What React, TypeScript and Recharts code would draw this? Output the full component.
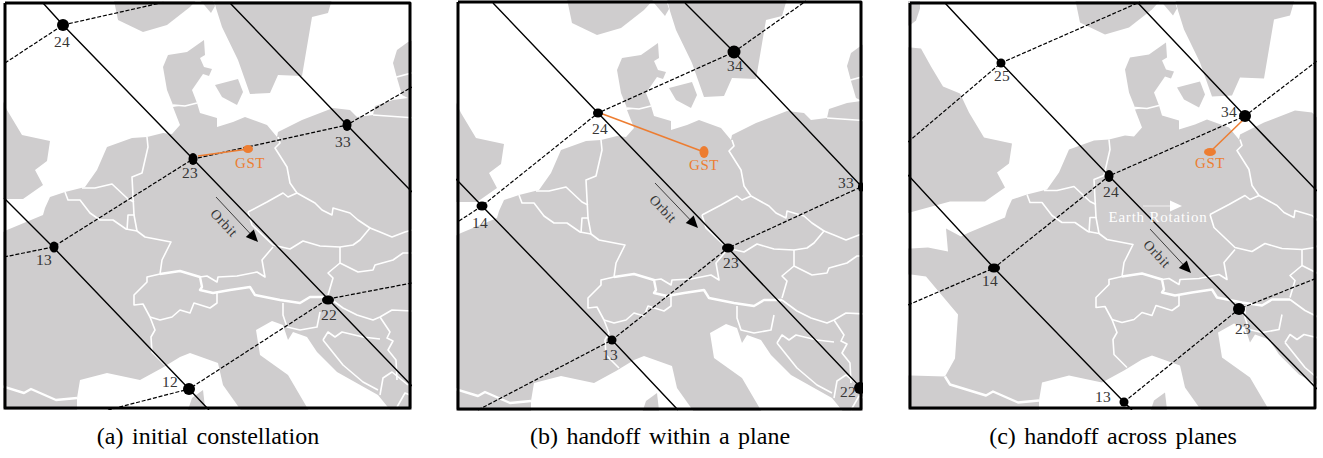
import { ScatterChart, Scatter, XAxis, YAxis } from "recharts";

type Pair = [number, number];

// map outlines, read in panel (a) pixels; other panels shift them
const norway: Pair[] = [[113,-4],[118,20],[143,32],[167,25],[190,7],[200,-4]];
const skagerrak: Pair[] = [[200,0],[211,13],[215,6],[213,0]];
const sweden: Pair[] = [[213,-4],[216,8],[222,27],[238,60],[250,94],[270,93],[278,75],[302,76],[312,17],[328,13],[333,-4]];
const denmark: Pair[] = [[163,67],[168,55],[187,52],[204,40],[205,55],[200,58],[204,67],[212,69],[209,76],[203,74],[192,90],[197,103],[185,106],[173,105],[167,90]];
const zealand: Pair[] = [[215,85],[238,79],[243,92],[237,105],[222,97]];
const baltic: Pair[] = [[430,35],[408,42],[397,50],[393,63],[397,78],[402,95],[408,98],[430,98]];
const lithuania: Pair[] = [[373,115],[375,106],[393,100],[430,95],[430,120]];
const britain: Pair[] = [[-60,44],[-41,46],[-31,64],[-19,84],[-2,91],[7,110],[22,135],[50,141],[47,161],[35,170],[43,185],[23,199],[-12,199],[-60,212]];
const ireland: Pair[] = [[-60,-4],[-42,-4],[-42,6],[-46,18],[-51,22],[-60,26]];
const mainland: Pair[] = [[-60,246],[-51,246],[-34,245],[-14,249],[-16,226],[-1,234],[7,230],[43,215],[45,208],[50,197],[65,192],[85,187],[97,170],[107,147],[132,138],[147,137],[163,133],[172,134],[180,125],[173,107],[197,103],[200,113],[217,118],[217,127],[233,122],[245,117],[267,125],[277,137],[278,132],[302,120],[333,108],[350,110],[357,117],[373,115],[430,118],[430,416],[-60,416]];
const biscay: Pair[] = [[-62,272],[-51,272],[-36,274],[-4,312],[-7,356],[-17,374],[-51,373],[-62,373]];
const mediterranean: Pair[] = [[77,416],[77,398],[80,380],[107,373],[140,380],[162,368],[180,357],[190,353],[218,363],[223,385],[245,416]];
const adriatic: Pair[] = [[256,330],[272,321],[283,325],[288,340],[293,332],[307,337],[317,352],[337,372],[378,395],[395,416],[312,416],[288,375],[260,355]];
const corsica: Pair[] = [[186,416],[192,398],[203,390],[206,416]];

const land = [norway, skagerrak, sweden, denmark, zealand, baltic, lithuania, britain, ireland, mainland];
const seas = [biscay, mediterranean, adriatic];

const borders: Pair[][] = [
  [[147,137],[148,147],[142,173],[132,177],[134,215],[137,231]],
  [[127,230],[128,215],[134,215]],
  [[65,192],[68,200],[80,200],[90,213],[100,220],[113,220],[126,229],[137,231],[145,237],[171,242],[162,260],[160,274],[147,277],[147,282],[134,295],[134,305],[143,304],[150,317],[155,330],[151,337],[152,352],[165,365]],
  [[82,188],[95,188],[112,184],[128,199],[134,202]],
  [[150,317],[160,320],[172,317],[180,310],[190,313],[194,303],[210,308],[217,303],[217,293]],
  [[200,277],[207,276],[217,282],[218,277],[237,276],[257,272],[265,277],[262,260],[273,247]],
  [[278,137],[280,143],[275,148],[287,167],[290,183],[297,193],[315,203],[322,210],[332,215],[333,208],[350,213],[358,220],[370,228],[360,240],[353,245],[340,247]],
  [[248,212],[267,202],[283,193],[288,197],[297,193]],
  [[248,212],[252,225],[273,245],[290,249],[303,241],[320,246],[340,247]],
  [[370,228],[380,232],[392,237],[405,232],[430,225]],
  [[340,247],[340,263],[358,272],[373,270],[375,265],[393,260],[403,253],[430,253]],
  [[340,263],[328,273],[333,278],[328,295]],
  [[328,297],[343,308],[357,315],[373,320],[380,317],[392,310],[430,312]],
  [[283,303],[283,315],[287,327],[300,330],[317,327],[320,312]],
  [[380,317],[390,332],[387,338],[393,341],[388,350],[396,360],[397,380]],
  [[323,340],[328,332],[335,337],[342,332],[363,337],[380,339]],
  [[323,340],[343,365],[363,382],[378,390]],
  [[380,395],[383,378],[392,372],[408,385]],
  [[397,407],[405,393],[410,395]],
  [[393,78],[430,68]],
  [[173,105],[185,106],[197,103]],
  [[373,115],[430,119]],
];
const heavyBorders: Pair[][] = [
  [[160,274],[180,271],[200,277],[202,287],[200,290],[213,293],[230,290],[250,287],[255,295],[280,300],[300,303],[310,297],[328,297]],
  [[-17,374],[-12,382],[24,393],[31,389],[56,400],[77,398]],
];

// panel (a)
const orbitsA: Pair[][] = [[[43,3],[63,25],[193,159],[328,299],[412,386]], [[230,3],[347,125],[412,192]], [[4,198],[53,247],[189,389],[209,410]]];
const linksA: Pair[][] = [[[5,63],[63,25],[165,2]], [[4,257],[53,247],[193,159],[347,125],[412,87]], [[108,410],[189,389],[328,299],[412,283]]];
const satsA = [{ name: "24", x: 63, y: 25 }, { name: "33", x: 347, y: 125 }, { name: "23", x: 193, y: 159 }, { name: "13", x: 54, y: 247 }, { name: "22", x: 328, y: 300 }, { name: "12", x: 189, y: 389 }];
const labelsA = [{ name: "24", x: 62, y: 41 }, { name: "33", x: 343, y: 141 }, { name: "23", x: 190, y: 172 }, { name: "13", x: 44, y: 259 }, { name: "22", x: 329, y: 314 }, { name: "12", x: 170, y: 381 }];
const gstA = [{ x: 248, y: 149 }];
const gstLinkA: Pair[] = [[198,156],[248,149]];
const gstLabelA = [{ name: "GST", x: 250, y: 163 }];
const arrowA: Pair[] = [[216,197],[258,242]];
const orbitTextA = [{ name: "Orbit", x: 224, y: 223 }];

// panel (b)
const orbitsB: Pair[][] = [[[493,3],[598,113],[728,248],[862,389]], [[685,3],[734,52],[863,188]], [[456,179],[482,206],[612,340],[678,410]]];
const linksB: Pair[][] = [[[459,221],[482,206],[598,113],[734,52],[806,1]], [[478,410],[612,340],[728,248],[861,187]]];
const satsB = [{ name: "34", x: 734, y: 52 }, { name: "24", x: 598, y: 113 }, { name: "14", x: 482, y: 206 }, { name: "23", x: 728, y: 248 }, { name: "13", x: 612, y: 340 }, { name: "33", x: 861, y: 187 }, { name: "22", x: 860, y: 388 }];
const labelsB = [{ name: "34", x: 735, y: 65 }, { name: "24", x: 600, y: 128 }, { name: "14", x: 480, y: 222 }, { name: "23", x: 731, y: 262 }, { name: "13", x: 610, y: 354 }, { name: "33", x: 846, y: 182 }, { name: "22", x: 848, y: 391 }];
const gstB = [{ x: 704, y: 152 }];
const gstLinkB: Pair[] = [[600,113],[704,152]];
const gstLabelB = [{ name: "GST", x: 704, y: 165 }];
const arrowB: Pair[] = [[655,183],[698,228]];
const orbitTextB = [{ name: "Orbit", x: 663, y: 209 }];

// panel (c)
const orbitsC: Pair[][] = [[[945,3],[1001,63],[1109,176],[1239,309],[1317,389]], [[1138,3],[1245,116],[1317,191]], [[908,175],[994,268],[1124,402],[1132,410]]];
const linksC: Pair[][] = [[[908,142],[1001,63],[1140,2]], [[908,305],[994,268],[1109,176],[1245,116],[1317,61]], [[1124,402],[1239,309],[1317,278]]];
const satsC = [{ name: "25", x: 1001, y: 63 }, { name: "24", x: 1109, y: 176 }, { name: "34", x: 1245, y: 116 }, { name: "14", x: 994, y: 268 }, { name: "23", x: 1239, y: 309 }, { name: "13", x: 1124, y: 402 }];
const labelsC = [{ name: "25", x: 1002, y: 75 }, { name: "24", x: 1111, y: 191 }, { name: "34", x: 1229, y: 111 }, { name: "14", x: 990, y: 280 }, { name: "23", x: 1243, y: 328 }, { name: "13", x: 1103, y: 396 }];
const gstC = [{ x: 1210, y: 152 }];
const gstLinkC: Pair[] = [[1243,120],[1210,152]];
const gstLabelC = [{ name: "GST", x: 1210, y: 163 }];
const arrowC: Pair[] = [[1150,229],[1191,273]];
const orbitTextC = [{ name: "Orbit", x: 1157, y: 254 }];
const earthArrowC: Pair[] = [[1143,206],[1182,206]];
const earthTextC = [{ name: "Earth Rotation", x: 1158, y: 217 }];

// marker radii per satellite, one table per panel
const radiiA: Record<string, Pair> = { "24": [6,6], "33": [4.5,6], "23": [4.5,6], "13": [4.5,5.5], "22": [6,4.5], "12": [6,6] };
const radiiB: Record<string, Pair> = { "34": [6.5,6.5], "24": [5,4.5], "14": [5.5,4.5], "23": [6,4.5], "13": [4.5,4.5], "33": [3,5], "22": [6,6] };
const radiiC: Record<string, Pair> = { "25": [4.5,4.5], "24": [4.5,6], "34": [6,6], "14": [6,4.5], "23": [6,6], "13": [4.5,4.5] };

const LAND = "#cfcdce";
const ORANGE = "#ed7d31";
const INK = "#333";
const SERIF = "'Liberation Serif', serif";

const toPoints = (list: Pair[]) => list.map(([x, y]) => ({ x, y }));
const noDot = () => <g />;

const pathOf = (points: { x: number; y: number }[], closed = false) =>
  points.map((p, i) => `${i ? "L" : "M"}${p.x} ${p.y}`).join(" ") + (closed ? " Z" : "");

const polygon = (fill: string) => (props: any) => <path d={pathOf(props.points, true)} fill={fill} stroke="none" />;
const polyline = (stroke: string, width: number, dash?: string) => (props: any) => (
  <path d={pathOf(props.points)} fill="none" stroke={stroke} strokeWidth={width} strokeDasharray={dash} strokeLinejoin="round" />
);
const arrowLine = (color: string, width: number) => (props: any) => {
  const [a, b] = props.points;
  const angle = Math.atan2(b.y - a.y, b.x - a.x);
  const at = (back: number, side: number) => {
    const bx = b.x - back * Math.cos(angle) - side * Math.sin(angle);
    const by = b.y - back * Math.sin(angle) + side * Math.cos(angle);
    return `${bx} ${by}`;
  };
  return (
    <g>
      <path d={`M${a.x} ${a.y} L${at(10, 0)}`} stroke={color} strokeWidth={width} fill="none" />
      <path d={`M${b.x} ${b.y} L${at(12, 5.5)} L${at(12, -5.5)} Z`} fill={color} />
    </g>
  );
};

const label = (color: string, size: number, rotate = 0, spacing = 0.3) => (props: any) => (
  <text
    x={props.cx}
    y={props.cy}
    fill={color}
    fontSize={size}
    fontFamily={SERIF}
    letterSpacing={spacing}
    textAnchor="middle"
    dominantBaseline="central"
    opacity={0.98}
    transform={rotate ? `rotate(${rotate} ${props.cx} ${props.cy})` : undefined}
  >
    {props.payload.name}
  </text>
);
const marker = (radii: Record<string, Pair>) => (props: any) => {
  const [rx, ry] = radii[props.payload.name];
  return <ellipse cx={props.cx} cy={props.cy} rx={rx} ry={ry} fill="#000" />;
};
const gstMarker = (rx: number, ry: number) => (props: any) => (
  <ellipse cx={props.cx} cy={props.cy} rx={rx} ry={ry} fill={ORANGE} />
);

interface PanelProps {
  left: number;
  right: number;
  top: number;
  bottom: number;
  shift: Pair;
  orbits: Pair[][];
  links: Pair[][];
  sats: { name: string; x: number; y: number }[];
  labels: { name: string; x: number; y: number }[];
  radii: Record<string, Pair>;
  gst: { x: number; y: number }[];
  gstRadii: Pair;
  gstLink: Pair[];
  gstLabel: { name: string; x: number; y: number }[];
  arrow: Pair[];
  orbitText: { name: string; x: number; y: number }[];
  earthArrow?: Pair[];
  earthText?: { name: string; x: number; y: number }[];
  caption: string;
  captionX: number;
}

function Panel(p: PanelProps) {
  const pad = 2;
  const x0 = p.left - pad;
  const y0 = p.top - pad;
  const w = p.right - p.left + pad * 2;
  const h = p.bottom - p.top + pad * 2;
  const moved = (list: Pair[]) => toPoints(list.map(([x, y]) => [x + p.shift[0], y + p.shift[1]] as Pair));
  const frame: Pair[] = [[p.left, p.top], [p.right, p.top], [p.right, p.bottom], [p.left, p.bottom], [p.left, p.top]];

  return (
    <>
      <div style={{ position: "absolute", left: x0, top: y0, width: w, height: h, overflow: "hidden" }}>
        <ScatterChart width={w} height={h} margin={{ top: 0, right: 0, bottom: 0, left: 0 }}>
          <XAxis type="number" dataKey="x" domain={[x0, x0 + w]} hide allowDataOverflow />
          <YAxis type="number" dataKey="y" domain={[y0, y0 + h]} reversed hide allowDataOverflow />
          {land.map((poly, i) => (
            <Scatter key={`land-${i}`} data={moved(poly)} line={polygon(LAND)} shape={noDot} isAnimationActive={false} />
          ))}
          {seas.map((poly, i) => (
            <Scatter key={`sea-${i}`} data={moved(poly)} line={polygon("#fff")} shape={noDot} isAnimationActive={false} />
          ))}
          <Scatter data={moved(corsica)} line={polygon(LAND)} shape={noDot} isAnimationActive={false} />
          {borders.map((b, i) => (
            <Scatter key={`border-${i}`} data={moved(b)} line={polyline("#fff", 1.6)} shape={noDot} isAnimationActive={false} />
          ))}
          {heavyBorders.map((b, i) => (
            <Scatter key={`heavy-${i}`} data={moved(b)} line={polyline("#fff", 2.4)} shape={noDot} isAnimationActive={false} />
          ))}
          {p.links.map((l, i) => (
            <Scatter key={`link-${i}`} data={toPoints(l)} line={polyline("#000", 1.2, "4 1.8")} shape={noDot} isAnimationActive={false} />
          ))}
          {p.orbits.map((o, i) => (
            <Scatter key={`orbit-${i}`} data={toPoints(o)} line={polyline("#000", 1.4)} shape={noDot} isAnimationActive={false} />
          ))}
          <Scatter data={toPoints(p.gstLink)} line={polyline(ORANGE, 1.5)} shape={noDot} isAnimationActive={false} />
          <Scatter data={p.gst} shape={gstMarker(p.gstRadii[0], p.gstRadii[1])} isAnimationActive={false} />
          <Scatter data={p.gstLabel} shape={label(ORANGE, 15, 0, 0.5)} isAnimationActive={false} />
          <Scatter data={toPoints(p.arrow)} line={arrowLine("#000", 0.7)} shape={noDot} isAnimationActive={false} />
          <Scatter data={p.orbitText} shape={label(INK, 14, 47, 0.6)} isAnimationActive={false} />
          {p.earthArrow && (
            <Scatter data={toPoints(p.earthArrow)} line={arrowLine("#fff", 0.7)} shape={noDot} isAnimationActive={false} />
          )}
          {p.earthText && <Scatter data={p.earthText} shape={label("#fff", 15, 0, 0.8)} isAnimationActive={false} />}
          <Scatter data={p.sats} shape={marker(p.radii)} isAnimationActive={false} />
          <Scatter data={p.labels} shape={label(INK, 15.5)} isAnimationActive={false} />
          <Scatter data={toPoints(frame)} line={polyline("#000", 3)} shape={noDot} isAnimationActive={false} />
        </ScatterChart>
      </div>
      <div
        style={{
          position: "absolute",
          left: p.captionX - 200,
          width: 400,
          top: 422,
          textAlign: "center",
          fontFamily: SERIF,
          fontSize: 24,
          wordSpacing: 2.5,
          lineHeight: "28px",
          color: "#000",
          whiteSpace: "nowrap",
        }}
      >
        {p.caption}
      </div>
    </>
  );
}

export default function App() {
  return (
    <div style={{ position: "absolute", left: 0, top: 0, width: 1323, height: 458, background: "#fff", overflow: "hidden" }}>
      <Panel
        left={5} right={410} top={3} bottom={408} shift={[0, 0]}
        orbits={orbitsA} links={linksA} sats={satsA} labels={labelsA} radii={radiiA}
        gst={gstA} gstRadii={[5, 4]} gstLink={gstLinkA} gstLabel={gstLabelA}
        arrow={arrowA} orbitText={orbitTextA}
        caption="(a) initial constellation" captionX={208}
      />
      <Panel
        left={458} right={861} top={2} bottom={409} shift={[454, 3]}
        orbits={orbitsB} links={linksB} sats={satsB} labels={labelsB} radii={radiiB}
        gst={gstB} gstRadii={[4.5, 6]} gstLink={gstLinkB} gstLabel={gstLabelB}
        arrow={arrowB} orbitText={orbitTextB}
        caption="(b) handoff within a plane" captionX={660}
      />
      <Panel
        left={910} right={1315} top={3} bottom={408} shift={[962, 2.5]}
        orbits={orbitsC} links={linksC} sats={satsC} labels={labelsC} radii={radiiC}
        gst={gstC} gstRadii={[6, 4]} gstLink={gstLinkC} gstLabel={gstLabelC}
        arrow={arrowC} orbitText={orbitTextC} earthArrow={earthArrowC} earthText={earthTextC}
        caption="(c) handoff across planes" captionX={1113}
      />
    </div>
  );
}
